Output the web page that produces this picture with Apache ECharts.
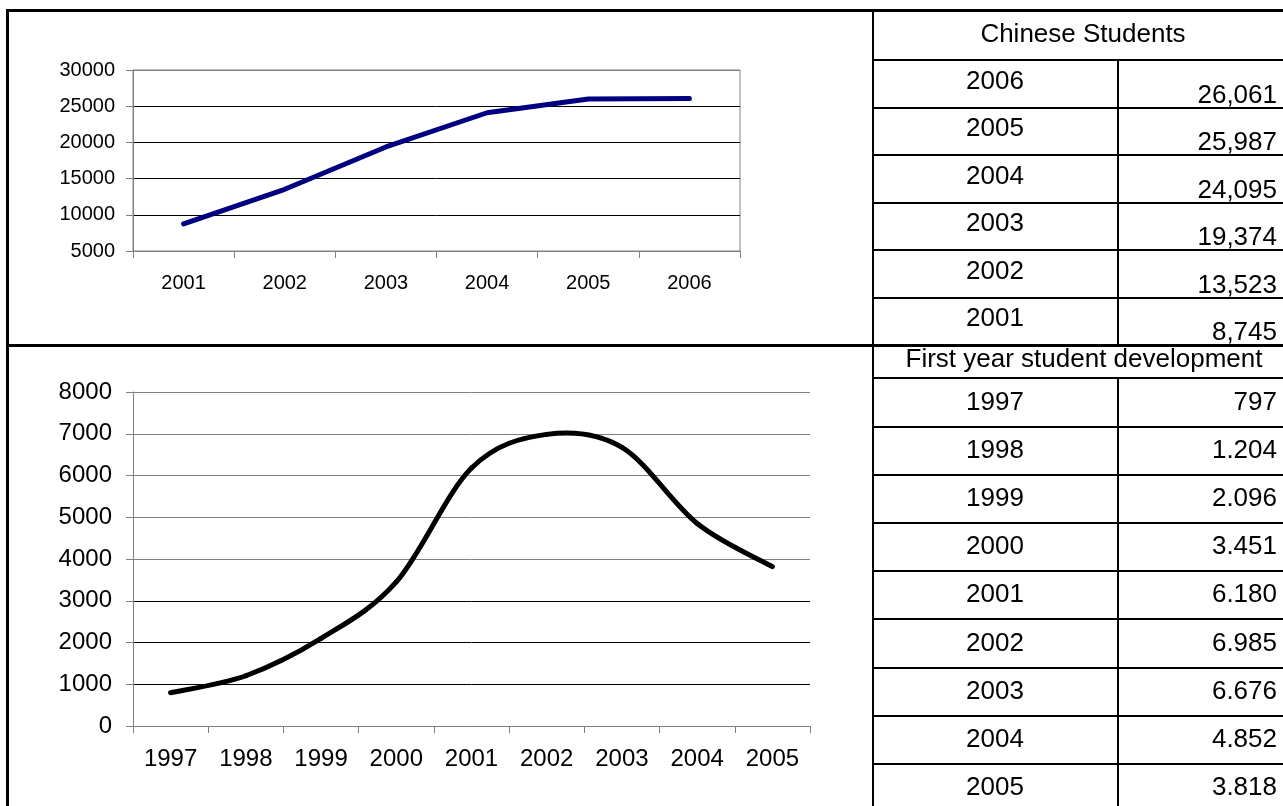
<!DOCTYPE html>
<html>
<head>
<meta charset="utf-8">
<title>Chinese Students</title>
<script src="https://cdn.jsdelivr.net/npm/echarts@6/dist/echarts.min.js"></script>
<style>
  html, body { margin: 0; padding: 0; background: #fff; }
  #main { width: 1283px; height: 806px; }
</style>
</head>
<body>
<div id="main"></div>
<script>
// Chinese students, 2001-2006
const chineseYears = ['2001', '2002', '2003', '2004', '2005', '2006'];
const chineseStudents = [8745, 13523, 19374, 24095, 25987, 26061];
const chineseTicks = [5000, 10000, 15000, 20000, 25000, 30000];

// First year student development, 1997-2005
const firstYearYears = ['1997', '1998', '1999', '2000', '2001', '2002', '2003', '2004', '2005'];
const firstYearStudents = [797, 1204, 2096, 3451, 6180, 6985, 6676, 4852, 3818];
const firstYearTicks = [0, 1000, 2000, 3000, 4000, 5000, 6000, 7000, 8000];

const FONT = '"Liberation Sans", Arial, Helvetica, sans-serif';
const GREY = '#808080';

function withCommas(v) { return v.toLocaleString('en-US'); }
function withDots(v) { return v.toLocaleString('en-US').replace(/,/g, '.'); }

function bar(x, y, w, h) {
  return { type: 'rect', silent: true, z: 10,
    shape: { x: x, y: y, width: w, height: h }, style: { fill: '#000' } };
}
function txt(t, x, y, align, size) {
  return { type: 'text', silent: true, z: 10, x: x, y: y,
    style: { text: t, fill: '#000', font: size + 'px ' + FONT,
      align: align, textAlign: align, verticalAlign: 'middle', textVerticalAlign: 'middle' } };
}

// frame and tables
const graphics = [];
graphics.push(bar(6, 9, 1277, 3));      // top edge
graphics.push(bar(6, 9, 3, 797));       // left edge
graphics.push(bar(6, 344, 1277, 3));    // divider between the two blocks
graphics.push(bar(872, 9, 2, 797));     // divider chart | table

// upper table
const upTop = 59, upRow = 47.5;
graphics.push(txt('Chinese Students', 1083, 35, 'center', 26));
graphics.push(bar(872, upTop, 411, 2));
graphics.push(bar(1117, upTop, 2, 286));
const yearsDesc = chineseYears.slice().reverse();
const valuesDesc = chineseStudents.slice().reverse();
yearsDesc.forEach(function (yr, i) {
  const top = upTop + i * upRow;
  if (i > 0) graphics.push(bar(872, Math.round(top), 411, 2));
  graphics.push(txt(yr, 995, top + upRow / 2 - 1, 'center', 26));
  graphics.push(txt(withCommas(valuesDesc[i]), 1277, top + upRow - 11, 'right', 26));
});

// lower table
const loTop = 377.3, loRow = 48.2;
graphics.push(txt('First year student development', 1084, 360, 'center', 26));
graphics.push(bar(872, 377, 411, 2));
graphics.push(bar(1117, 377, 2, 429));
firstYearYears.forEach(function (yr, i) {
  const top = loTop + i * loRow;
  if (i > 0) graphics.push(bar(872, Math.round(top), 411, 2));
  graphics.push(txt(yr, 995, top + loRow / 2 + 1, 'center', 26));
  graphics.push(txt(withDots(firstYearStudents[i]), 1277, top + loRow / 2 + 1, 'right', 26));
});

// smoothed line: cubic Bezier segments with Catmull-Rom style tangents
function renderSmoothSegment(params, api) {
  const i = params.dataIndex;
  const n = firstYearStudents.length;
  if (i >= n - 1) return null;
  const pt = function (k) {
    k = Math.max(0, Math.min(n - 1, k));
    return api.coord([k, firstYearStudents[k]]);
  };
  const p0 = pt(i - 1), p1 = pt(i), p2 = pt(i + 1), p3 = pt(i + 2);
  return {
    type: 'bezierCurve',
    shape: {
      x1: p1[0], y1: p1[1], x2: p2[0], y2: p2[1],
      cpx1: p1[0] + (p2[0] - p0[0]) / 6, cpy1: p1[1] + (p2[1] - p0[1]) / 6,
      cpx2: p2[0] - (p3[0] - p1[0]) / 6, cpy2: p2[1] - (p3[1] - p1[1]) / 6
    },
    style: { stroke: '#000', lineWidth: 5, fill: null, lineCap: 'round', lineJoin: 'round' },
    silent: true
  };
}

const chart = echarts.init(document.getElementById('main'), null, { renderer: 'canvas' });
chart.setOption({
  animation: false,
  backgroundColor: '#fff',
  grid: [
    { left: 133, top: 70, width: 607, height: 181, show: true,
      borderColor: GREY, borderWidth: 1, backgroundColor: 'transparent' },
    { left: 133, top: 392, width: 677, height: 334 }
  ],
  xAxis: [
    { type: 'category', gridIndex: 0, data: chineseYears, boundaryGap: true,
      axisLine: { lineStyle: { color: GREY, width: 1 } },
      axisTick: { show: true, length: 7, lineStyle: { color: GREY } },
      axisLabel: { color: '#000', fontSize: 20, fontFamily: FONT, margin: 22, interval: 0 } },
    { type: 'category', gridIndex: 1, data: firstYearYears, boundaryGap: true,
      axisLine: { lineStyle: { color: GREY, width: 1 } },
      axisTick: { show: true, length: 7, lineStyle: { color: GREY } },
      axisLabel: { color: '#000', fontSize: 24, fontFamily: FONT, margin: 21, interval: 0 } }
  ],
  yAxis: [
    { type: 'value', gridIndex: 0,
      min: chineseTicks[0], max: chineseTicks[chineseTicks.length - 1],
      interval: chineseTicks[1] - chineseTicks[0],
      axisLine: { show: true, lineStyle: { color: GREY, width: 1 } },
      axisTick: { show: true, length: 7, lineStyle: { color: GREY } },
      axisLabel: { color: '#000', fontSize: 20, fontFamily: FONT, margin: 18,
        formatter: function (v) { return String(v); } },
      splitLine: { show: true, lineStyle: { width: 1,
        color: [GREY, '#000', '#000', '#000', '#000', GREY] } } },
    { type: 'value', gridIndex: 1,
      min: firstYearTicks[0], max: firstYearTicks[firstYearTicks.length - 1],
      interval: firstYearTicks[1] - firstYearTicks[0],
      axisLine: { show: true, lineStyle: { color: GREY, width: 1 } },
      axisTick: { show: true, length: 7, lineStyle: { color: GREY } },
      axisLabel: { color: '#000', fontSize: 24, fontFamily: FONT, margin: 21,
        formatter: function (v) { return String(v); } },
      splitLine: { show: true, lineStyle: { width: 1,
        color: [GREY, '#000', '#000', '#000', GREY, GREY, GREY, GREY, GREY] } } }
  ],
  series: [
    { name: 'Chinese Students', type: 'line', xAxisIndex: 0, yAxisIndex: 0,
      data: chineseStudents, symbol: 'none', smooth: false,
      lineStyle: { color: '#000080', width: 5, cap: 'round', join: 'round' } },
    { name: 'First year student development', type: 'custom', xAxisIndex: 1, yAxisIndex: 1,
      data: firstYearStudents.map(function (v, i) { return [i, v]; }),
      encode: { x: 0, y: 1 },
      renderItem: renderSmoothSegment }
  ],
  graphic: graphics
});
</script>
</body>
</html>
